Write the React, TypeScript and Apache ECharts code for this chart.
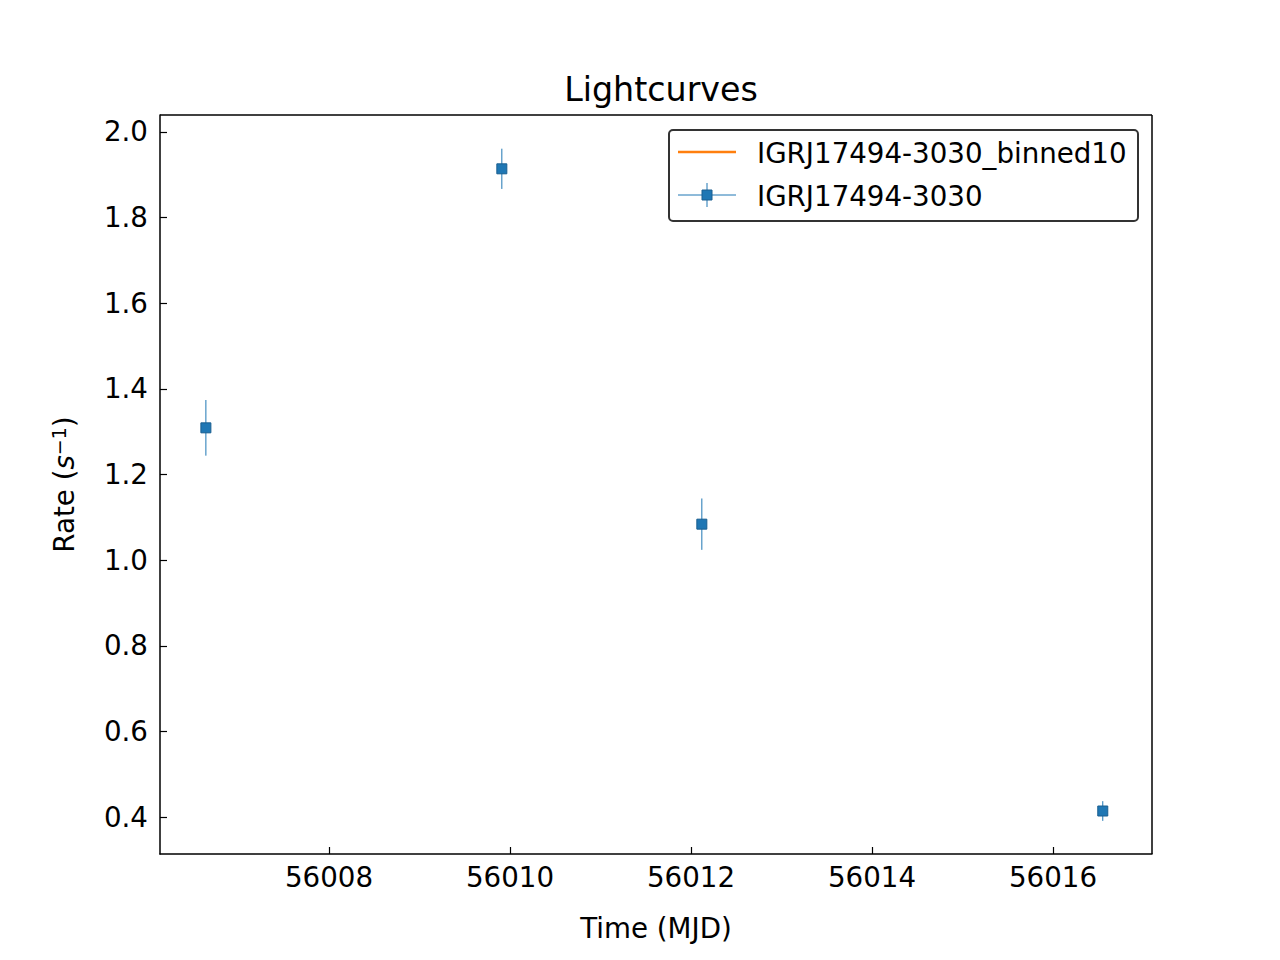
import React, { useEffect, useRef } from 'react';
import * as echarts from 'echarts';

const times = [56006.64, 56009.91, 56012.12, 56016.55];
const rates = [1.309, 1.914, 1.084, 0.414];
const rateErrors = [0.065, 0.047, 0.06, 0.023];
const binnedTimes: number[] = [];
const binnedRates: number[] = [];

const BLUE = '#1f77b4';
const ORANGE = '#ff7f0e';
const FONT = 'DejaVu Sans';
const FS = 27.7;

export default function App() {
  const ref = useRef<HTMLDivElement>(null);

  useEffect(() => {
    if (!ref.current) return;
    const chart = echarts.init(ref.current, undefined, { renderer: 'svg' });
    const points = times.map((t, i) => [t, rates[i], rateErrors[i]]);
    chart.setOption({
      animation: false,
      backgroundColor: '#fff',
      textStyle: { fontFamily: FONT },
      title: {
        text: 'Lightcurves',
        left: 656,
        top: 68,
        textAlign: 'center',
        textStyle: { fontFamily: FONT, fontSize: 33.3, fontWeight: 'normal', color: '#000' },
      },
      grid: { left: 160, top: 115, width: 992, height: 739 },
      xAxis: {
        type: 'value',
        min: 56006.133,
        max: 56017.094,
        splitNumber: 5,
        name: 'Time (MJD)',
        nameLocation: 'middle',
        nameGap: 60,
        nameTextStyle: { fontFamily: FONT, fontSize: FS, color: '#000' },
        axisLine: { show: true, onZero: false, lineStyle: { color: '#000', width: 1.5 } },
        axisTick: { show: true, inside: true, length: 7, lineStyle: { color: '#000', width: 1.2 } },
        axisLabel: {
          color: '#000', fontSize: FS, fontFamily: FONT, margin: 9,
          showMinLabel: false, showMaxLabel: false,
          formatter: (v: number) => String(Math.round(v)),
        },
        splitLine: { show: false },
      },
      yAxis: {
        type: 'value',
        min: 0.3136,
        max: 2.0397,
        splitNumber: 8,
        name: '{n|Rate (}{i|s}{s|−1}{n|)}',
        nameLocation: 'middle',
        nameGap: 80,
        nameTextStyle: {
          fontFamily: FONT,
          fontSize: FS,
          color: '#000',
          rich: {
            n: { fontFamily: FONT, fontSize: FS, color: '#000' },
            i: { fontFamily: FONT, fontSize: FS, fontStyle: 'italic', color: '#000' },
            s: { fontFamily: FONT, fontSize: 19, color: '#000', verticalAlign: 'top', padding: [0, 0, 12, 0] },
          },
        },
        axisLine: { show: true, onZero: false, lineStyle: { color: '#000', width: 1.5 } },
        axisTick: { show: true, inside: true, length: 7, lineStyle: { color: '#000', width: 1.2 } },
        axisLabel: {
          color: '#000', fontSize: FS, fontFamily: FONT, margin: 12,
          showMinLabel: false, showMaxLabel: false,
          formatter: (v: number) => v.toFixed(1),
        },
        splitLine: { show: false },
      },
      series: [
        {
          name: 'IGRJ17494-3030_binned10',
          type: 'line',
          data: binnedTimes.map((t, i) => [t, binnedRates[i]]),
          lineStyle: { color: ORANGE, width: 2 },
          showSymbol: false,
        },
        {
          name: 'IGRJ17494-3030',
          type: 'custom',
          data: points,
          renderItem: (params: any, api: any) => {
            const x = api.value(0);
            const y = api.value(1);
            const e = api.value(2);
            const c = api.coord([x, y]);
            const hi = api.coord([x, y + e]);
            const lo = api.coord([x, y - e]);
            return {
              type: 'group',
              children: [
                { type: 'line', shape: { x1: c[0], y1: hi[1], x2: c[0], y2: lo[1] }, style: { stroke: BLUE, lineWidth: 1 } },
                { type: 'rect', shape: { x: c[0] - 5, y: c[1] - 5, width: 10, height: 10 }, style: { fill: BLUE, stroke: '#1a5f90', lineWidth: 1 } },
              ],
            };
          },
        },
      ],
      graphic: [
        { type: 'rect', shape: { x: 669, y: 130, width: 469, height: 91, r: 4 }, style: { fill: 'rgba(255,255,255,0.8)', stroke: '#333', lineWidth: 2 } },
        { type: 'line', shape: { x1: 678, y1: 152, x2: 736, y2: 152 }, style: { stroke: ORANGE, lineWidth: 2.5 } },
        { type: 'text', x: 757, y: 153, style: { text: 'IGRJ17494-3030_binned10', fontFamily: FONT, fontSize: FS, fill: '#000', verticalAlign: 'middle' } },
        { type: 'line', shape: { x1: 678, y1: 195, x2: 736, y2: 195 }, style: { stroke: BLUE, lineWidth: 1 } },
        { type: 'line', shape: { x1: 707, y1: 183, x2: 707, y2: 207 }, style: { stroke: BLUE, lineWidth: 1 } },
        { type: 'rect', shape: { x: 702, y: 190, width: 10, height: 10 }, style: { fill: BLUE, stroke: '#1a5f90', lineWidth: 1 } },
        { type: 'text', x: 757, y: 196, style: { text: 'IGRJ17494-3030', fontFamily: FONT, fontSize: FS, fill: '#000', verticalAlign: 'middle' } },
        // top and right spines
        { type: 'line', shape: { x1: 160, y1: 115, x2: 1152, y2: 115 }, style: { stroke: '#000', lineWidth: 1.5 } },
        { type: 'line', shape: { x1: 1152, y1: 115, x2: 1152, y2: 854 }, style: { stroke: '#000', lineWidth: 1.5 } },
      ],
    });
    return () => chart.dispose();
  }, []);

  return <div ref={ref} style={{ width: 1280, height: 960, margin: -8 }} />;
}
